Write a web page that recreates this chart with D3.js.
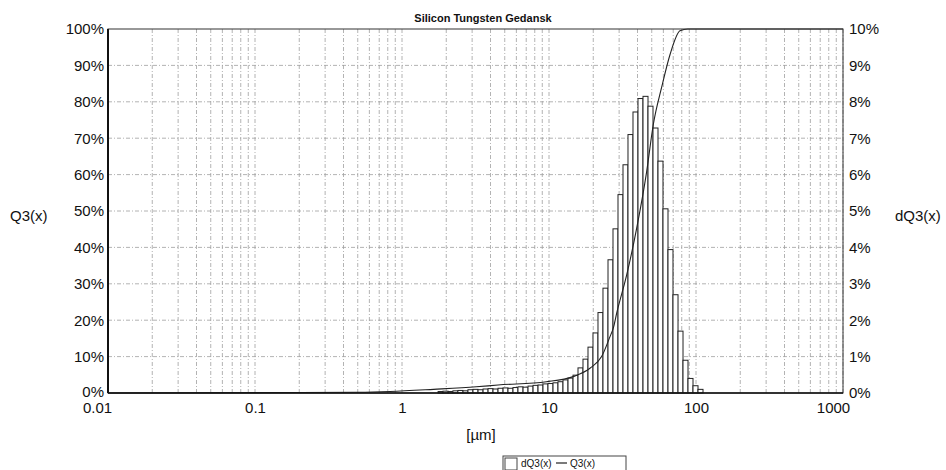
<!DOCTYPE html>
<html>
<head>
<meta charset="utf-8">
<script src="https://cdn.jsdelivr.net/npm/d3@7"></script>
<style>
  body { margin: 0; background: #fff; }
  text { font-family: "Liberation Sans", Arial, sans-serif; fill: #111; }
</style>
</head>
<body>
<div id="chart"></div>
<script>
// particle size distribution - histogram (dQ3) + cumulative curve (Q3)

// class edges in µm (bars sit between consecutive edges)
var classEdges = [1.76, 1.90, 2.06, 2.22, 2.40, 2.60, 2.81, 3.04, 3.29, 3.56,
  3.85, 4.16, 4.50, 4.87, 5.26, 5.69, 6.15, 6.66, 7.20, 7.79,
  8.42, 9.10, 9.84, 10.65, 11.51, 12.45, 13.47, 14.57, 15.75, 17.03,
  18.42, 19.92, 21.54, 23.29, 25.20, 27.25, 29.47, 31.87, 34.46, 37.27,
  40.31, 43.60, 47.15, 50.99, 55.14, 59.63, 64.49, 69.74, 75.45, 81.59,
  88.23, 95.42, 103.2, 111.6];

// dQ3(x) in % per class
var dQ3 = [0.04, 0.05, 0.04, 0.06, 0.07, 0.06, 0.09, 0.10, 0.09, 0.11,
  0.12, 0.11, 0.13, 0.14, 0.13, 0.15, 0.17, 0.16, 0.19, 0.21,
  0.22, 0.25, 0.26, 0.28, 0.31, 0.36, 0.41, 0.49, 0.69, 0.93,
  1.26, 1.65, 2.21, 2.88, 3.66, 4.51, 5.45, 6.27, 7.10, 7.72,
  8.09, 8.15, 7.88, 7.28, 6.37, 5.06, 3.94, 2.70, 1.70, 0.90,
  0.40, 0.20, 0.10];

// Q3(x) cumulative
var q3Size = [0.01, 0.1, 0.5, 0.83, 1.64, 3.2, 4.5, 9.6, 14.6, 19.0, 22.8, 26.0,
  27.4, 28.9, 33.8, 39.5, 46.2, 51.2, 58.4, 66.6, 77.8, 88, 1000];
var q3Val = [0, 0.1, 0.2, 0.4, 1.0, 1.7, 2.2, 3.1, 4.5, 6.8, 10.0, 15.5,
  17.9, 22, 32.5, 45.3, 60.9, 73.7, 84, 93, 99.5, 100, 100];

var xTicks = [0.01, 0.1, 1, 10, 100, 1000];
var xTickLabels = ['0.01', '0.1', '1', '10', '100', '1000'];
var leftTicks = [0, 10, 20, 30, 40, 50, 60, 70, 80, 90, 100];
var rightTicks = [0, 1, 2, 3, 4, 5, 6, 7, 8, 9, 10];

var width = 946, height = 470;
var margin = {top: 29, right: 103, bottom: 77, left: 108};
var plotW = width - margin.left - margin.right;
var plotH = height - margin.top - margin.bottom;

var svg = d3.select('#chart').append('svg')
    .attr('width', width)
    .attr('height', height);

var g = svg.append('g')
    .attr('transform', 'translate(' + margin.left + ',' + margin.top + ')');

var x = d3.scaleLog().domain([0.01, 1000]).range([0, plotW]);
var yL = d3.scaleLinear().domain([0, 100]).range([plotH, 0]);
var yR = d3.scaleLinear().domain([0, 10]).range([plotH, 0]);

// grid - log minor lines for the x, every 10% for y
var minor = [];
[0.01, 0.1, 1, 10, 100].forEach(function(dec) {
  for (var k = 1; k < 10; k++) minor.push(dec * k);
});
minor = minor.filter(function(v) { return v > 0.01; });
minor.push(1000);

g.append('g').attr('class', 'grid-x')
  .selectAll('line')
  .data(minor)
  .enter().append('line')
    .attr('x1', function(d) { return x(d); })
    .attr('x2', function(d) { return x(d); })
    .attr('y1', 0)
    .attr('y2', plotH)
    .attr('stroke', '#a0a0a0')
    .attr('stroke-width', 0.8)
    .attr('stroke-dasharray', '4,2,1,2');

g.append('g').attr('class', 'grid-y')
  .selectAll('line')
  .data(leftTicks.slice(1, -1))
  .enter().append('line')
    .attr('x1', 0)
    .attr('x2', plotW)
    .attr('y1', function(d) { return yL(d); })
    .attr('y2', function(d) { return yL(d); })
    .attr('stroke', '#a0a0a0')
    .attr('stroke-width', 0.8)
    .attr('stroke-dasharray', '4,2,1,2');

// histogram bars
var bins = dQ3.map(function(v, i) {
  return {lo: classEdges[i], hi: classEdges[i + 1], v: v};
});

g.append('g').attr('class', 'bars')
  .selectAll('rect')
  .data(bins)
  .enter().append('rect')
    .attr('x', function(d) { return x(d.lo); })
    .attr('width', function(d) { return x(d.hi) - x(d.lo); })
    .attr('y', function(d) { return yR(d.v); })
    .attr('height', function(d) { return yR(0) - yR(d.v); })
    .attr('fill', '#fff')
    .attr('stroke', '#222')
    .attr('stroke-width', 1);

// cumulative curve
var line = d3.line()
  .x(function(d) { return x(d[0]); })
  .y(function(d) { return yL(d[1]); })
  .curve(d3.curveMonotoneX);

g.append('path')
  .datum(d3.zip(q3Size, q3Val))
  .attr('d', line)
  .attr('fill', 'none')
  .attr('stroke', '#222')
  .attr('stroke-width', 1.1);

// frame
g.append('rect')
  .attr('width', plotW)
  .attr('height', plotH)
  .attr('fill', 'none')
  .attr('stroke', '#333')
  .attr('stroke-width', 1);
g.append('line')
  .attr('x1', 0).attr('x2', 0).attr('y1', 0).attr('y2', plotH)
  .attr('stroke', '#111').attr('stroke-width', 2);
g.append('line')
  .attr('x1', 0).attr('x2', plotW).attr('y1', plotH).attr('y2', plotH)
  .attr('stroke', '#111').attr('stroke-width', 1.5);

// axes - labels only, no tick marks
var xAxis = d3.axisBottom(x)
  .tickValues(xTicks)
  .tickFormat(function(d, i) { return xTickLabels[i]; })
  .tickSize(0)
  .tickPadding(9);
var xa = g.append('g')
  .attr('transform', 'translate(0,' + plotH + ')')
  .call(xAxis);
xa.select('.domain').remove();
xa.selectAll('text')
  .style('font-size', '15px')
  .attr('dx', function(d, i) { return i === 0 ? -11 : (i === xTicks.length - 1 ? -10 : 0); });

var la = g.append('g').call(d3.axisLeft(yL)
  .tickValues(leftTicks)
  .tickFormat(function(d) { return d + '%'; })
  .tickSize(0).tickPadding(4));
la.select('.domain').remove();
la.selectAll('text')
  .style('font-size', '15px')
  .attr('dy', function(d) { return d === 0 ? '0.2em' : '0.32em'; });

var ra = g.append('g')
  .attr('transform', 'translate(' + plotW + ',0)')
  .call(d3.axisRight(yR)
    .tickValues(rightTicks)
    .tickFormat(function(d) { return d + '%'; })
    .tickSize(0).tickPadding(6));
ra.select('.domain').remove();
ra.selectAll('text').style('font-size', '15px');

// titles
svg.append('text')
  .attr('x', 483).attr('y', 22)
  .attr('text-anchor', 'middle')
  .style('font-size', '11px')
  .style('font-weight', 'bold')
  .text('Silicon Tungsten Gedansk');

svg.append('text')
  .attr('x', 10).attr('y', 221)
  .style('font-size', '15px')
  .text('Q3(x)');

svg.append('text')
  .attr('x', 895).attr('y', 221)
  .style('font-size', '15px')
  .text('dQ3(x)');

svg.append('text')
  .attr('x', 481).attr('y', 440)
  .attr('text-anchor', 'middle')
  .style('font-size', '15px')
  .text('[µm]');

// legend
var lg = svg.append('g').attr('transform', 'translate(503,456)');
lg.append('rect')
  .attr('width', 123).attr('height', 16)
  .attr('fill', '#fff').attr('stroke', '#444').attr('stroke-width', 1);
lg.append('rect')
  .attr('x', 2).attr('y', 2).attr('width', 12).attr('height', 12)
  .attr('fill', '#fff').attr('stroke', '#444');
lg.append('text')
  .attr('x', 18).attr('y', 11)
  .style('font-size', '10px')
  .text('dQ3(x)');
lg.append('line')
  .attr('x1', 53).attr('x2', 64).attr('y1', 7).attr('y2', 7)
  .attr('stroke', '#222').attr('stroke-width', 1.2);
lg.append('text')
  .attr('x', 67).attr('y', 11)
  .style('font-size', '10px')
  .text('Q3(x)');
</script>
</body>
</html>
